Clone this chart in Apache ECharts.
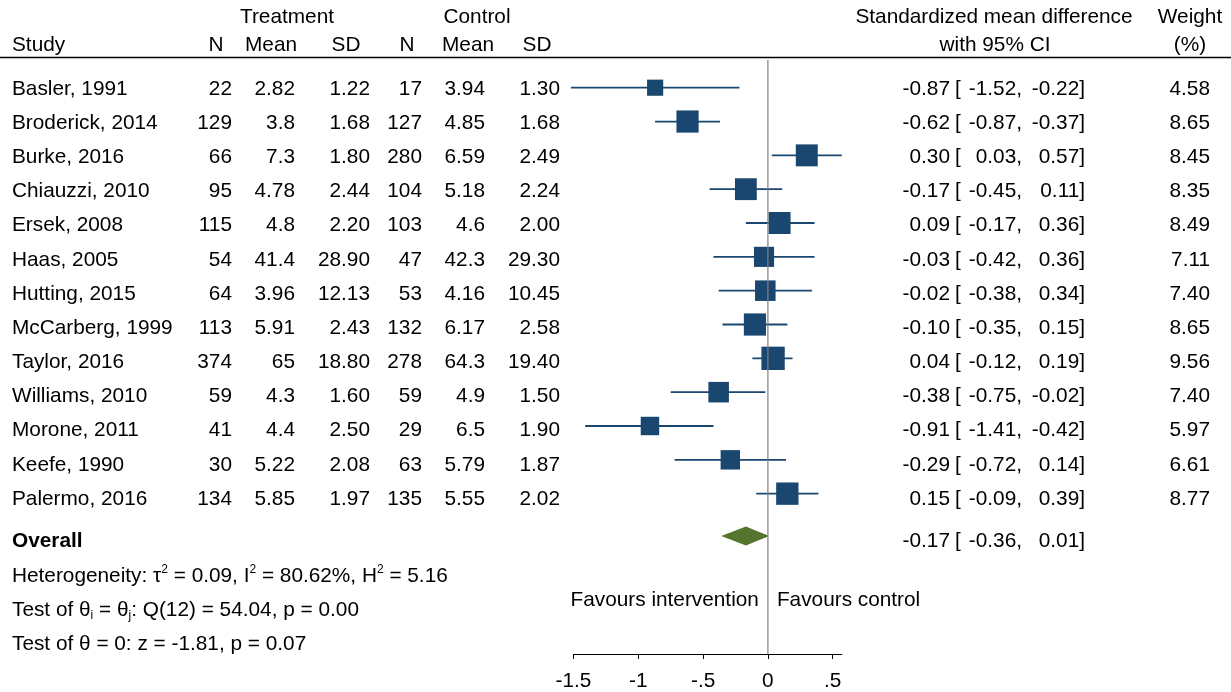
<!DOCTYPE html>
<html>
<head>
<meta charset="utf-8">
<script src="https://cdn.jsdelivr.net/npm/echarts@6/dist/echarts.min.js"></script>
<style>
html,body{margin:0;padding:0;background:#fff;}
#chart{width:1231px;height:692px;}
</style>
</head>
<body>
<div id="chart"></div>
<script>
// ---------------- data ----------------
const studies = ["Basler, 1991","Broderick, 2014","Burke, 2016","Chiauzzi, 2010","Ersek, 2008","Haas, 2005","Hutting, 2015","McCarberg, 1999","Taylor, 2016","Williams, 2010","Morone, 2011","Keefe, 1990","Palermo, 2016"];
const nT = [22,129,66,95,115,54,64,113,374,59,41,30,134];
const meanT = [2.82,3.8,7.3,4.78,4.8,41.4,3.96,5.91,65,4.3,4.4,5.22,5.85];
const sdT = [1.22,1.68,1.80,2.44,2.20,28.90,12.13,2.43,18.80,1.60,2.50,2.08,1.97];
const nC = [17,127,280,104,103,47,53,132,278,59,29,63,135];
const meanC = [3.94,4.85,6.59,5.18,4.6,42.3,4.16,6.17,64.3,4.9,6.5,5.79,5.55];
const sdC = [1.30,1.68,2.49,2.24,2.00,29.30,10.45,2.58,19.40,1.50,1.90,1.87,2.02];
const es = [-0.87,-0.62,0.30,-0.17,0.09,-0.03,-0.02,-0.10,0.04,-0.38,-0.91,-0.29,0.15];
const ciLo = [-1.52,-0.87,0.03,-0.45,-0.17,-0.42,-0.38,-0.35,-0.12,-0.75,-1.41,-0.72,-0.09];
const ciHi = [-0.22,-0.37,0.57,0.11,0.36,0.36,0.34,0.15,0.19,-0.02,-0.42,0.14,0.39];
const weight = [4.58,8.65,8.45,8.35,8.49,7.11,7.40,8.65,9.56,7.40,5.97,6.61,8.77];
const overallES = -0.17, overallLo = -0.36, overallHi = 0.01;
const xTicks = [-1.5,-1,-0.5,0,0.5];
const heteroText = "Heterogeneity: τ{sup|2} = 0.09, I{sup|2} = 80.62%, H{sup|2} = 5.16";
const testHomText = "Test of θ{sub|i} = θ{sub|j}: Q(12) = 54.04, p = 0.00";
const testZText = "Test of θ = 0: z = -1.81, p = 0.07";

// ---------------- layout ----------------
const W = 1231, H = 692;
const ROW0 = 88, ROWH = 34.17;
const vOf = p => (p - ROW0) / ROWH;
const FONT = '"Liberation Sans", Arial, Helvetica, sans-serif';
const FS = 20.8;
const TEXT_DY = 1;
const NAVY = '#1a476f', GREEN = '#55752f';
const PLOT_LEFT = 573.5, UNIT = 129.6, XMIN = -1.5, XMAX = 0.57;
const PLOT_TOP = 58, AXIS_Y = 660;
const OVERALL_ROW = 13.25;

const chart = echarts.init(document.getElementById('chart'), null, {renderer: 'canvas'});

const baseStyle = {fill: '#000', font: FS + 'px ' + FONT, verticalAlign: 'middle'};
const rich = {
  sup: {fontSize: 12, lineHeight: 12, verticalAlign: 'top', fontFamily: FONT, fill: '#000', color: '#000'},
  sub: {fontSize: 12, lineHeight: 12, verticalAlign: 'bottom', fontFamily: FONT, fill: '#000', color: '#000'}
};

// generic text series on table grid: items [x, row, text, align, bold]
function textSeries(items) {
  return {
    type: 'custom', xAxisIndex: 1, yAxisIndex: 1, clip: false, silent: true,
    data: items.map(it => [it[0], it[1]]),
    renderItem: function (params, api) {
      const it = items[params.dataIndex];
      const p = api.coord([api.value(0), api.value(1)]);
      return {
        type: 'text', x: p[0], y: p[1] + TEXT_DY,
        style: {
          text: it[2], align: it[3] || 'left', verticalAlign: 'middle',
          fill: '#000',
          font: (it[4] ? 'bold ' : '') + FS + 'px ' + FONT,
          rich: {sup: Object.assign({}, rich.sup), sub: Object.assign({}, rich.sub)},
          lineHeight: 24
        }
      };
    }
  };
}

const fmt2 = v => v.toFixed(2);
const items = [];
// headers
items.push([287, vOf(16), 'Treatment', 'center']);
items.push([477, vOf(16), 'Control', 'center']);
items.push([994, vOf(16), 'Standardized mean difference', 'center']);
items.push([1190, vOf(16), 'Weight', 'center']);
items.push([12, vOf(44), 'Study', 'left']);
items.push([216, vOf(44), 'N', 'center']);
items.push([271, vOf(44), 'Mean', 'center']);
items.push([346, vOf(44), 'SD', 'center']);
items.push([407, vOf(44), 'N', 'center']);
items.push([468, vOf(44), 'Mean', 'center']);
items.push([537, vOf(44), 'SD', 'center']);
items.push([995, vOf(44), 'with 95% CI', 'center']);
items.push([1190, vOf(44), '(%)', 'center']);
// rows
studies.forEach((s, i) => {
  items.push([12, i, s, 'left']);
  items.push([232, i, String(nT[i]), 'right']);
  items.push([295, i, String(meanT[i]), 'right']);
  items.push([370, i, fmt2(sdT[i]), 'right']);
  items.push([422, i, String(nC[i]), 'right']);
  items.push([485, i, String(meanC[i]), 'right']);
  items.push([560, i, fmt2(sdC[i]), 'right']);
  items.push([950, i, fmt2(es[i]), 'right']);
  items.push([955, i, '[', 'left']);
  items.push([1022, i, fmt2(ciLo[i]) + ',', 'right']);
  items.push([1085, i, fmt2(ciHi[i]) + ']', 'right']);
  items.push([1210, i, fmt2(weight[i]), 'right']);
});
// overall
items.push([12, OVERALL_ROW, 'Overall', 'left', true]);
items.push([950, OVERALL_ROW, fmt2(overallES), 'right']);
items.push([955, OVERALL_ROW, '[', 'left']);
items.push([1022, OVERALL_ROW, fmt2(overallLo) + ',', 'right']);
items.push([1085, OVERALL_ROW, fmt2(overallHi) + ']', 'right']);
items.push([12, OVERALL_ROW + 1, heteroText, 'left']);
items.push([12, OVERALL_ROW + 2, testHomText, 'left']);
items.push([12, OVERALL_ROW + 3, testZText, 'left']);

const option = {
  animation: false,
  backgroundColor: '#fff',
  textStyle: {fontFamily: FONT},
  grid: [
    {left: PLOT_LEFT, top: PLOT_TOP, width: (XMAX - XMIN) * UNIT, height: AXIS_Y - PLOT_TOP, containLabel: false},
    {left: 0, top: 0, width: W, height: H, containLabel: false}
  ],
  xAxis: [
    {
      type: 'value', gridIndex: 0, min: XMIN, max: XMAX,
      axisLine: {show: true, onZero: false, lineStyle: {color: '#000', width: 1}},
      axisTick: {show: true, inside: false, length: 5, customValues: xTicks, lineStyle: {color: '#000', width: 1}},
      axisLabel: {
        show: true, customValues: xTicks, margin: 17, color: '#000', fontSize: FS, fontFamily: FONT,
        formatter: v => v === 0 ? '0' : (v < 0 ? '-' : '') + String(Math.abs(v)).replace(/^0\./, '.')
      },
      splitLine: {show: false}
    },
    {type: 'value', gridIndex: 1, min: 0, max: W, show: false}
  ],
  yAxis: [
    {type: 'value', gridIndex: 0, inverse: true, min: vOf(PLOT_TOP), max: vOf(AXIS_Y), show: false},
    {type: 'value', gridIndex: 1, inverse: true, min: vOf(0), max: vOf(H), show: false}
  ],
  series: [
    // header rule
    {
      type: 'line', xAxisIndex: 1, yAxisIndex: 1, silent: true, symbol: 'none',
      data: [[0, vOf(57.5)], [W, vOf(57.5)]],
      lineStyle: {color: '#000', width: 1.4}
    },
    // zero line
    {
      type: 'line', xAxisIndex: 0, yAxisIndex: 0, silent: true, symbol: 'none',
      data: [[0, vOf(60)], [0, vOf(AXIS_Y)]],
      lineStyle: {color: '#808080', width: 1.2}
    },
    // study CIs and squares
    {
      type: 'custom', xAxisIndex: 0, yAxisIndex: 0, clip: false, silent: true,
      data: es.map((v, i) => [v, i, ciLo[i], ciHi[i], weight[i]]),
      renderItem: function (params, api) {
        const row = api.value(1);
        const a = api.coord([api.value(2), row]);
        const b = api.coord([api.value(3), row]);
        const c = api.coord([api.value(0), row]);
        const s = 7.55 * Math.sqrt(api.value(4));
        return {
          type: 'group',
          children: [
            {type: 'line', shape: {x1: a[0], y1: a[1], x2: b[0], y2: b[1]}, style: {stroke: NAVY, lineWidth: 1.8}},
            {type: 'rect', shape: {x: c[0] - s / 2, y: c[1] - s / 2, width: s, height: s}, style: {fill: NAVY}}
          ]
        };
      }
    },
    // overall diamond
    {
      type: 'custom', xAxisIndex: 0, yAxisIndex: 0, clip: false, silent: true,
      data: [[overallES, OVERALL_ROW, overallLo, overallHi]],
      renderItem: function (params, api) {
        const row = api.value(1);
        const l = api.coord([api.value(2), row]);
        const r = api.coord([api.value(3), row]);
        const c = api.coord([api.value(0), row]);
        const h = 9.5;
        return {
          type: 'polygon',
          shape: {points: [[l[0], l[1]], [c[0], c[1] - h], [r[0], r[1]], [c[0], c[1] + h]]},
          style: {fill: GREEN}
        };
      }
    },
    // favours labels
    {
      type: 'custom', xAxisIndex: 0, yAxisIndex: 0, clip: false, silent: true,
      data: [[0, vOf(606)]],
      renderItem: function (params, api) {
        const p = api.coord([api.value(0), api.value(1)]);
        return {
          type: 'group',
          children: [
            {type: 'text', x: p[0] - 9, y: p[1], style: Object.assign({}, baseStyle, {text: 'Favours intervention', align: 'right'})},
            {type: 'text', x: p[0] + 9, y: p[1], style: Object.assign({}, baseStyle, {text: 'Favours control', align: 'left'})}
          ]
        };
      }
    },
    textSeries(items)
  ]
};
chart.setOption(option);
</script>
</body>
</html>
